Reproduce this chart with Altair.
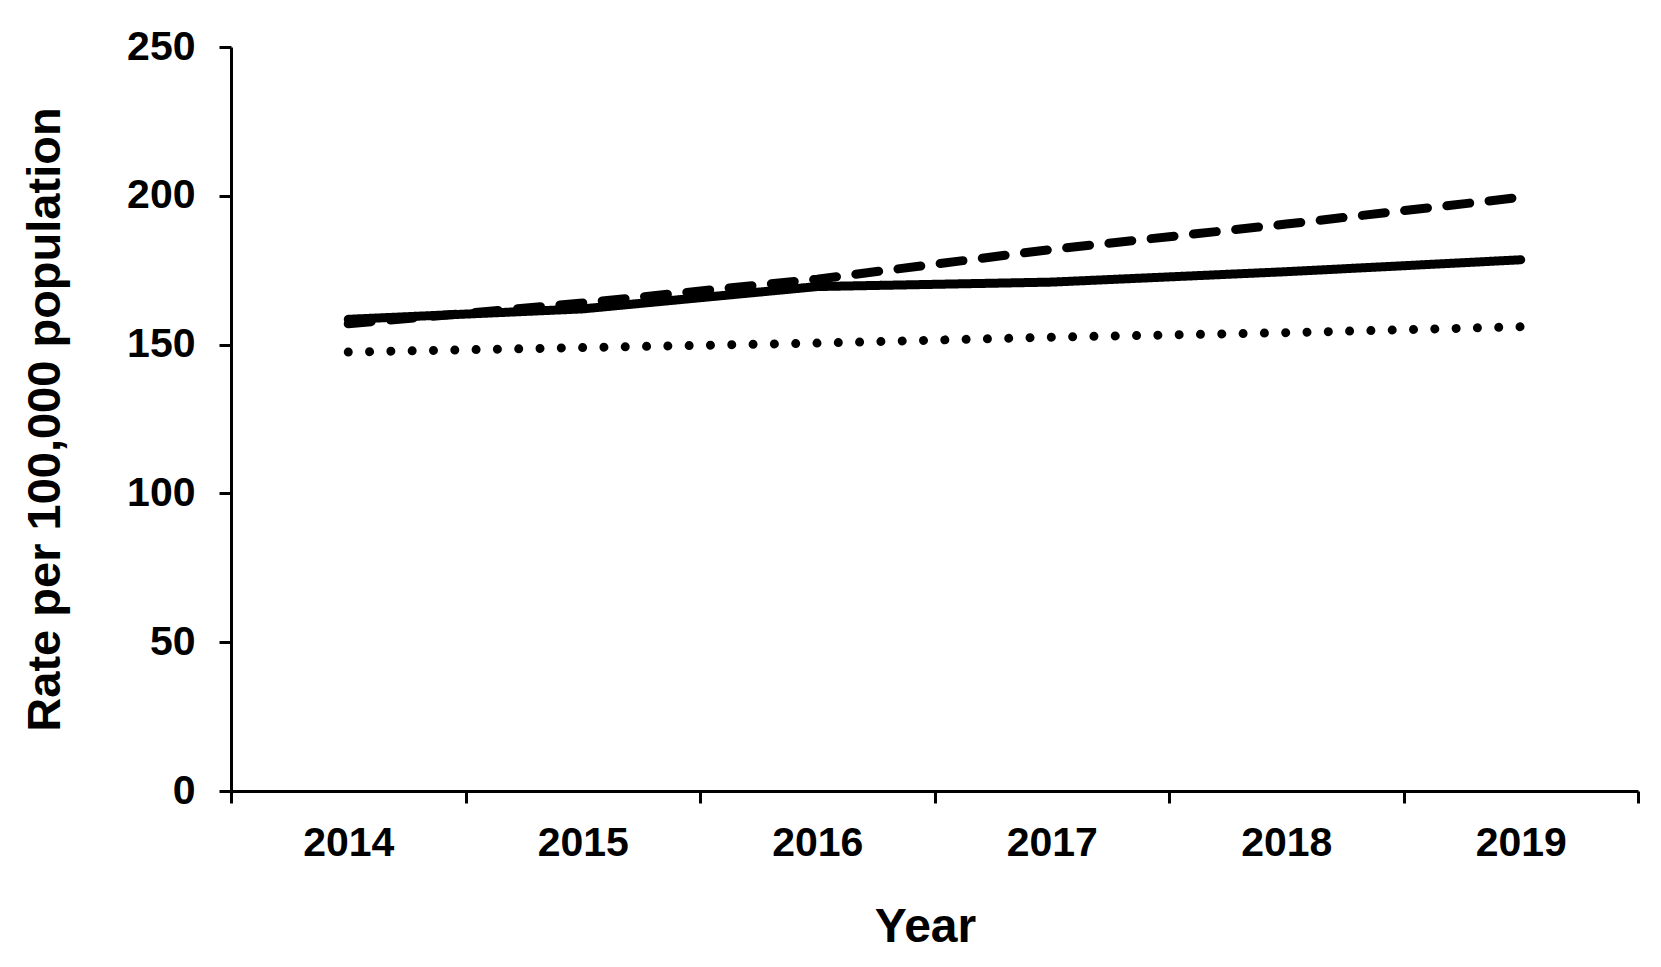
import altair as alt
import pandas as pd

years = ["2014", "2015", "2016", "2017", "2018", "2019"]
solid_vals = [158.5, 162.0, 169.5, 171.0, 174.5, 178.5]
dashed_vals = [157.0, 164.0, 172.0, 182.0, 190.5, 199.5]
dotted_vals = [147.5, 149.0, 150.5, 152.5, 154.0, 156.0]
series_names = ["Series 1", "Series 2", "Series 3"]

rows = []
for name, vals in zip(series_names, [solid_vals, dashed_vals, dotted_vals]):
    for y, v in zip(years, vals):
        rows.append({"Year": y, "Rate": v, "Series": name})
df = pd.DataFrame(rows)

FONT = "Liberation Sans"

chart = alt.Chart(df).mark_line(color="black", strokeCap="round", strokeJoin="round").encode(
    x=alt.X("Year:O", sort=years,
            scale=alt.Scale(type="band", paddingInner=0, paddingOuter=0),
            axis=alt.Axis(title="Year", labelAngle=0, tickBand="extent", tickSize=12,
                          tickWidth=3, domainWidth=3, domainColor="black", tickColor="black",
                          labelFont=FONT, labelFontSize=41, labelFontWeight="bold",
                          labelColor="black", labelPadding=20,
                          titleFont=FONT, titleFontSize=48, titleFontWeight="bold",
                          titleColor="black", titleX=694, titleY=150,
                          titleBaseline="alphabetic", titleAlign="center", grid=False)),
    y=alt.Y("Rate:Q", scale=alt.Scale(domain=[0, 250], nice=False),
            axis=alt.Axis(title="Rate per 100,000 population", values=[0, 50, 100, 150, 200, 250],
                          tickSize=12, tickWidth=3, domainWidth=3, domainColor="black",
                          tickColor="black", labelFont=FONT, labelFontSize=41,
                          labelFontWeight="bold", labelColor="black", labelPadding=24,
                          titleFont=FONT, titleFontSize=47, titleFontWeight="bold",
                          titleColor="black", titleX=-172, titleY=372, titleAngle=270,
                          titleBaseline="alphabetic", titleAlign="center", grid=False)),
    detail="Series:N",
    strokeDash=alt.StrokeDash("Series:N", scale=alt.Scale(domain=series_names,
                              range=[[1, 0], [23, 19.5], [0.01, 21.3]]), legend=None),
    strokeWidth=alt.StrokeWidth("Series:N", scale=alt.Scale(domain=series_names,
                                range=[9, 9, 10]), legend=None),
).properties(
    width=1407, height=744,
    autosize=alt.AutoSizeParams(type="none"),
    padding={"left": 223, "top": 39, "right": 15, "bottom": 165},
).configure_view(stroke=None)

chart.save("out.html", embed_options={"renderer": "svg", "actions": False})
